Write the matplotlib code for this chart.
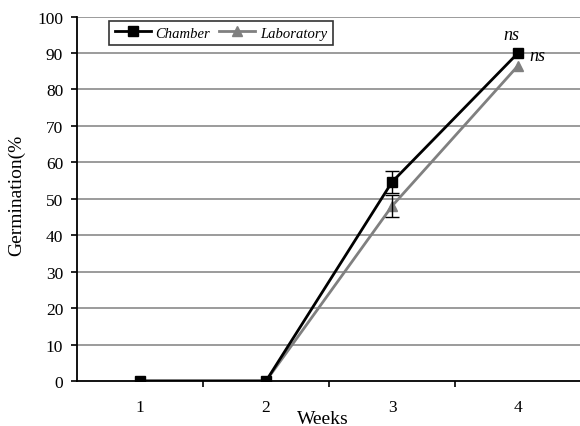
import matplotlib
matplotlib.use("Agg")
import matplotlib.pyplot as plt

weeks = [1, 2, 3, 4]
chamber = [0, 0, 54.6, 90]
chamber_err = [0, 0, 3.0, 0]
laboratory = [0, 0, 48, 86.5]
laboratory_err = [0, 0, 3.0, 0]
yticks = list(range(0, 101, 10))

plt.rcParams["font.family"] = ["Liberation Serif", "DejaVu Serif"]

fig = plt.figure(figsize=(5.8, 4.27), dpi=100)
ax = fig.add_axes([0.1328, 0.1054, 0.869, 0.8536])

for y in yticks[1:]:
    ax.axhline(y, color="#8a8a8a", lw=1.2, zorder=1)

l1, = ax.plot(weeks, chamber, color="black", lw=2, marker="s", ms=6.5,
              label="Chamber", zorder=4)
l2, = ax.plot(weeks, laboratory, color="#808080", lw=2, marker="^", ms=6.5,
              label="Laboratory", zorder=3)
ax.errorbar(weeks[2:3], chamber[2:3], yerr=chamber_err[2:3], fmt="none",
            ecolor="black", elinewidth=1, capsize=5, capthick=1, zorder=5)
ax.errorbar(weeks[2:3], laboratory[2:3], yerr=laboratory_err[2:3], fmt="none",
            ecolor="black", elinewidth=1, capsize=5, capthick=1, zorder=5)

ax.text(weeks[3] - 0.05, 95.2, "ns", style="italic", fontsize=13,
        ha="center", va="center")
ax.text(weeks[3] + 0.15, 89.2, "ns", style="italic", fontsize=13,
        ha="center", va="center")

ax.set_xlim(0.5, 4.5)
ax.set_ylim(0, 100)
ax.set_yticks(yticks)
ax.set_xticks(weeks)
ax.set_xticks([1.5, 2.5, 3.5, 4.5], minor=True)
ax.tick_params(axis="x", which="major", length=0, pad=13, labelsize=12.5)
ax.tick_params(axis="x", which="minor", length=4, direction="out", width=1.2)
ax.tick_params(axis="y", length=4, direction="out", width=1.2, pad=6,
               labelsize=12.5)
for s in ["top", "right"]:
    ax.spines[s].set_visible(False)
ax.spines["left"].set_linewidth(1.3)
ax.spines["bottom"].set_linewidth(1.3)

fig.text(0.557, 0.037, "Weeks", ha="center", va="top", fontsize=14)
fig.text(0.028, 0.543, "Germination(%", rotation=90, ha="center",
         va="center", fontsize=14)

leg = ax.legend(handles=[l1, l2], loc="upper left",
                bbox_to_anchor=(0.063, 0.989), ncol=2, frameon=True,
                fancybox=False, edgecolor="black",
                prop={"style": "italic", "size": 10.5}, handlelength=2.5,
                columnspacing=0.6, handletextpad=0.3, borderpad=0.4,
                borderaxespad=0)
leg.get_frame().set_linewidth(1.2)

fig.savefig("out.png", dpi=100)
